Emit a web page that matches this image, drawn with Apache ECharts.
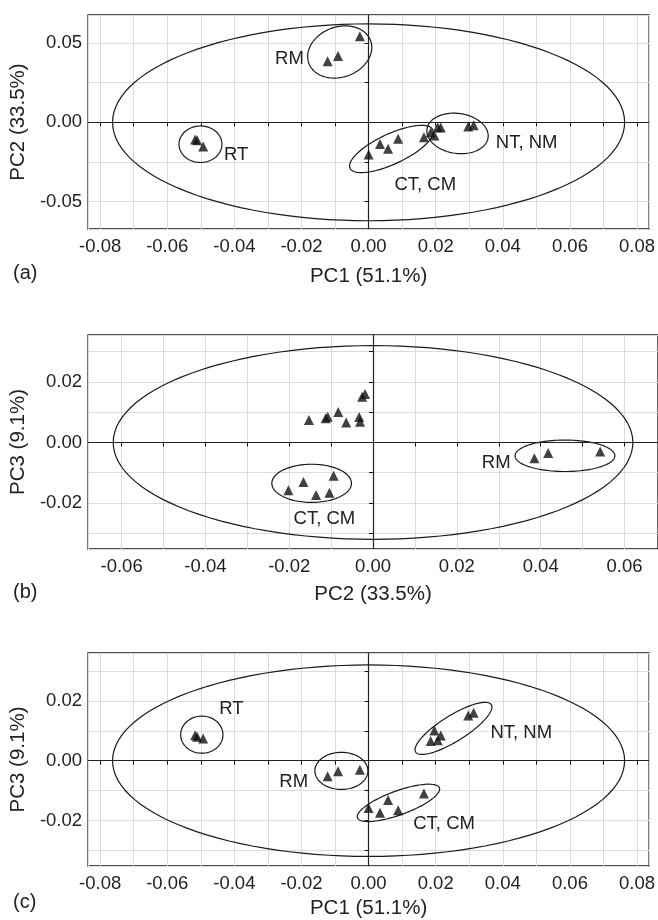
<!DOCTYPE html>
<html>
<head>
<meta charset="utf-8">
<script src="https://cdn.jsdelivr.net/npm/echarts@6/dist/echarts.min.js"></script>
<style>
  html, body { margin: 0; padding: 0; background: #fff; }
  #main { width: 658px; height: 920px; }
</style>
</head>
<body>
<div id="main"></div>
<script>
// sample scores (17 samples), same order in every array
var sampleGroup = ['RT', 'RT', 'RT', 'RM', 'RM', 'RM', 'CT', 'CT', 'CT', 'CT', 'CT', 'NT', 'NT', 'NT', 'NT', 'NT', 'NT'];
var pc1 = [-0.0517, -0.0511, -0.0493, -0.0026, -0.0091, -0.0122, 0.0000, 0.0034, 0.0058, 0.0088, 0.0165, 0.0185, 0.0196, 0.0206, 0.0215, 0.0297, 0.0313];
var pc2 = [-0.0108, -0.0113, -0.0153, 0.0542, 0.0418, 0.0385, -0.0202, -0.0136, -0.0166, -0.0104, -0.0094, -0.0064, -0.0083, -0.0031, -0.0033, -0.0026, -0.0019];
var pc3 = [0.0085, 0.0080, 0.0074, -0.0030, -0.0035, -0.0052, -0.0158, -0.0174, -0.0131, -0.0166, -0.0110, 0.0066, 0.0101, 0.0068, 0.0084, 0.0151, 0.0160];

var axisNames = ['PC1 (51.1%)', 'PC2 (33.5%)', 'PC3 (9.1%)'];
var panelTags = ['(a)', '(b)', '(c)'];

// confidence ellipses: [centre x, centre y, radius x, radius y, tilt in degrees]
var ellipsesA = [[0, 0, 0.0763, 0.062, 0], [-0.0086, 0.0443, 0.0098, 0.0158, 20], [-0.0501, -0.0138, 0.0064, 0.0115, 0], [0.0068, -0.0168, 0.0136, 0.0095, 25], [0.0265, -0.0070, 0.0092, 0.0126, -8]];
var ellipsesB = [[0, 0, 0.062, 0.032, 0], [-0.01465, -0.0135, 0.0095, 0.0063, 0], [0.0458, -0.0044, 0.0119, 0.0052, 0]];
var ellipsesC = [[0, 0, 0.0763, 0.032, 0], [-0.0497, 0.0087, 0.0063, 0.0062, 0], [-0.0081, -0.0034, 0.0079, 0.0062, 0], [0.0089, -0.0141, 0.0130, 0.0040, 20], [0.0253, 0.0108, 0.0133, 0.0043, 32]];

// group labels: [x, y, text]
var labelsA = [[-0.0236, 0.0400, 'RM'], [-0.0395, -0.0205, 'RT'], [0.0471, -0.0132, 'NT, NM'], [0.0169, -0.0394, 'CT, CM']];
var labelsB = [[-0.0116, -0.0251, 'CT, CM'], [0.0294, -0.0069, 'RM']];
var labelsC = [[-0.0409, 0.0173, 'RT'], [-0.0223, -0.0070, 'RM'], [0.0455, 0.0092, 'NT, NM'], [0.0225, -0.0210, 'CT, CM']];

var fontFamily = 'Liberation Sans, Arial, sans-serif';
var textColor = '#222';

var panels = [
  { xs: pc1, ys: pc2, xName: 0, yName: 1, ell: ellipsesA, labels: labelsA,
    grid: { left: 86, top: 15, width: 564, height: 214 },
    xRange: [-0.0836, 0.0836], yRange: [-0.0672, 0.0676], yStep: 0.025, yLabelStep: 0.05,
    xNameGap: 37, tagTop: 263 },
  { xs: pc2, ys: pc3, xName: 1, yName: 2, ell: ellipsesB, labels: labelsB,
    grid: { left: 88, top: 335, width: 570, height: 214 },
    xRange: [-0.068, 0.068], yRange: [-0.0352, 0.0355], yStep: 0.01, yLabelStep: 0.02,
    xNameGap: 35, tagTop: 582 },
  { xs: pc1, ys: pc3, xName: 0, yName: 2, ell: ellipsesC, labels: labelsC,
    grid: { left: 87, top: 653, width: 565, height: 215 },
    xRange: [-0.0836, 0.0836], yRange: [-0.0352, 0.036], yStep: 0.01, yLabelStep: 0.02,
    xNameGap: 32, tagTop: 892 }
];

function stepLabel(step) {
  return function (v) {
    var k = v / step;
    if (Math.abs(k - Math.round(k)) > 1e-6) return '';
    return v.toFixed(2);
  };
}

function ellipseItem(params, api) {
  var c = api.coord([api.value(0), api.value(1)]);
  var s = api.size([api.value(2), api.value(3)]);
  var t = api.value(4) * Math.PI / 180;
  var pts = [];
  for (var i = 0; i < 120; i++) {
    var a = i / 120 * 2 * Math.PI;
    var ex = s[0] * Math.cos(a), ey = s[1] * Math.sin(a);
    pts.push([c[0] + ex * Math.cos(t) + ey * Math.sin(t), c[1] - ex * Math.sin(t) + ey * Math.cos(t)]);
  }
  return {
    type: 'polygon',
    shape: { points: pts },
    style: { fill: 'none', stroke: '#1a1a1a', lineWidth: 1.2 }
  };
}

function labelItem(labels) {
  return function (params, api) {
    var c = api.coord([api.value(0), api.value(1)]);
    return {
      type: 'text', x: c[0], y: c[1],
      style: {
        text: labels[params.dataIndex][2], fill: textColor, align: 'center', verticalAlign: 'middle',
        font: '18.5px ' + fontFamily
      }
    };
  };
}

var option = {
  backgroundColor: '#fff',
  animation: false,
  textStyle: { fontFamily: fontFamily },
  grid: [], xAxis: [], yAxis: [], series: [], graphic: []
};

panels.forEach(function (p, i) {
  option.grid.push({
    left: p.grid.left, top: p.grid.top, width: p.grid.width, height: p.grid.height,
    show: true, borderColor: '#111', borderWidth: 1.3, backgroundColor: 'transparent'
  });

  option.xAxis.push({
    type: 'value', gridIndex: i,
    min: p.xRange[0], max: p.xRange[1],
    minInterval: 0.01, maxInterval: 0.01, splitNumber: 16,
    name: axisNames[p.xName], nameLocation: 'middle', nameGap: p.xNameGap,
    nameTextStyle: { fontSize: 20.5, color: textColor, fontFamily: fontFamily },
    axisLine: { show: false },
    axisTick: { show: true, inside: false, length: 4, lineStyle: { color: '#111' } },
    axisLabel: { show: true, showMinLabel: false, showMaxLabel: false, margin: 8, fontSize: 18.5, color: textColor,
      formatter: stepLabel(0.02) },
    splitLine: { show: true, lineStyle: { color: '#dcdcdc', width: 1 } }
  });

  option.yAxis.push({
    type: 'value', gridIndex: i,
    min: p.yRange[0], max: p.yRange[1],
    minInterval: p.yStep, maxInterval: p.yStep, splitNumber: 6,
    name: axisNames[p.yName], nameLocation: 'middle', nameGap: 53, nameRotate: 90,
    nameTextStyle: { fontSize: 20.5, color: textColor, fontFamily: fontFamily },
    axisLine: { show: false },
    axisTick: { show: true, inside: false, length: 4, lineStyle: { color: '#111' } },
    axisLabel: { show: true, showMinLabel: false, showMaxLabel: false, margin: 6, fontSize: 18.5, color: textColor,
      formatter: stepLabel(p.yLabelStep) },
    splitLine: { show: true, lineStyle: { color: '#dcdcdc', width: 1 } }
  });

  var pts = [];
  for (var k = 0; k < p.xs.length; k++) {
    pts.push([p.xs[k], p.ys[k], sampleGroup[k]]);
  }

  option.series.push({
    type: 'custom', xAxisIndex: i, yAxisIndex: i,
    renderItem: ellipseItem, data: p.ell, silent: true, clip: true, z: 3
  });

  option.series.push({
    type: 'scatter', xAxisIndex: i, yAxisIndex: i,
    symbol: 'triangle', symbolSize: 10,
    itemStyle: { color: '#111' },
    data: pts, z: 5,
    markLine: {
      silent: true, symbol: 'none', label: { show: false },
      lineStyle: { color: '#222', width: 1.2, type: 'solid' },
      data: [{ xAxis: 0 }, { yAxis: 0 }]
    }
  });

  option.series.push({
    type: 'custom', xAxisIndex: i, yAxisIndex: i,
    renderItem: labelItem(p.labels), silent: true, z: 6,
    data: p.labels.map(function (l) { return [l[0], l[1]]; })
  });

  option.graphic.push({
    type: 'text', left: 13, top: p.tagTop,
    style: { text: panelTags[i], fontSize: 20, fill: textColor, fontFamily: fontFamily }
  });
});

var chart = echarts.init(document.getElementById('main'));
chart.setOption(option);
</script>
</body>
</html>
